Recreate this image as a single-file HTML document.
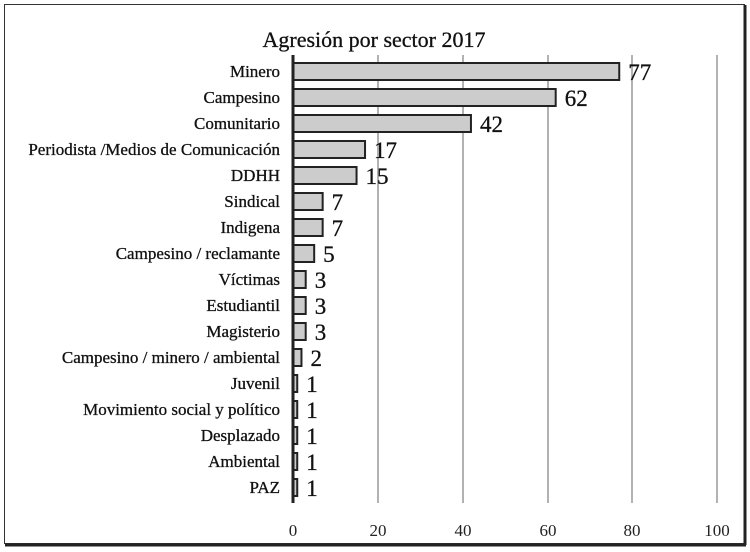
<!DOCTYPE html>
<html><head><meta charset="utf-8"><style>
html,body{margin:0;padding:0;background:#fff;}
</style></head><body>
<svg width="750" height="547" xmlns="http://www.w3.org/2000/svg" font-family="Liberation Serif, serif">
<rect x="4.5" y="4.5" width="740" height="539" fill="#fff" stroke="#333" stroke-width="1"/>
<line x1="745" y1="5" x2="745" y2="545" stroke="#222" stroke-width="3"/>
<line x1="5" y1="545" x2="746" y2="545" stroke="#222" stroke-width="3"/>
<text x="374" y="47" font-size="22" text-anchor="middle" fill="#111" stroke="#111" stroke-width="0.3">Agresión por sector 2017</text>
<g stroke="#999" stroke-width="1.5">
<line x1="378" y1="55" x2="378" y2="503"/>
<line x1="463" y1="55" x2="463" y2="503"/>
<line x1="548" y1="55" x2="548" y2="503"/>
<line x1="632" y1="55" x2="632" y2="503"/>
<line x1="717" y1="55" x2="717" y2="503"/>
</g>
<g font-size="17" text-anchor="middle" fill="#222">
<text x="293" y="536">0</text><text x="378" y="536">20</text><text x="463" y="536">40</text><text x="548" y="536">60</text><text x="632" y="536">80</text><text x="717" y="536">100</text>
</g>
<g id="bars" fill="#ccc" stroke="#222" stroke-width="2"></g>
<g id="labels" font-size="17" text-anchor="end" fill="#111" stroke="#111" stroke-width="0.3"></g>
<g id="vals" font-size="23" fill="#111" stroke="#111" stroke-width="0.3"></g>
<line x1="293" y1="55" x2="293" y2="503" stroke="#222" stroke-width="3"/>
<script>
var d=[["Minero",77],["Campesino",62],["Comunitario",42],["Periodista /Medios de Comunicación",17],["DDHH",15],["Sindical",7],["Indigena",7],["Campesino / reclamante",5],["Víctimas",3],["Estudiantil",3],["Magisterio",3],["Campesino / minero / ambiental",2],["Juvenil",1],["Movimiento social y político",1],["Desplazado",1],["Ambiental",1],["PAZ",1]];
var ns="http://www.w3.org/2000/svg";
function el(t,a,p,txt){var e=document.createElementNS(ns,t);for(var k in a)e.setAttribute(k,a[k]);if(txt!=null)e.textContent=txt;document.getElementById(p).appendChild(e);}
d.forEach(function(r,i){var y=63+26*i;var w=r[1]*4.237;
el("rect",{x:293,y:y,width:w,height:17},"bars");
el("text",{x:280,y:y+14},"labels",r[0]);
el("text",{x:293+w+9,y:y+17},"vals",String(r[1]));});
</script>
</svg>
</body></html>
